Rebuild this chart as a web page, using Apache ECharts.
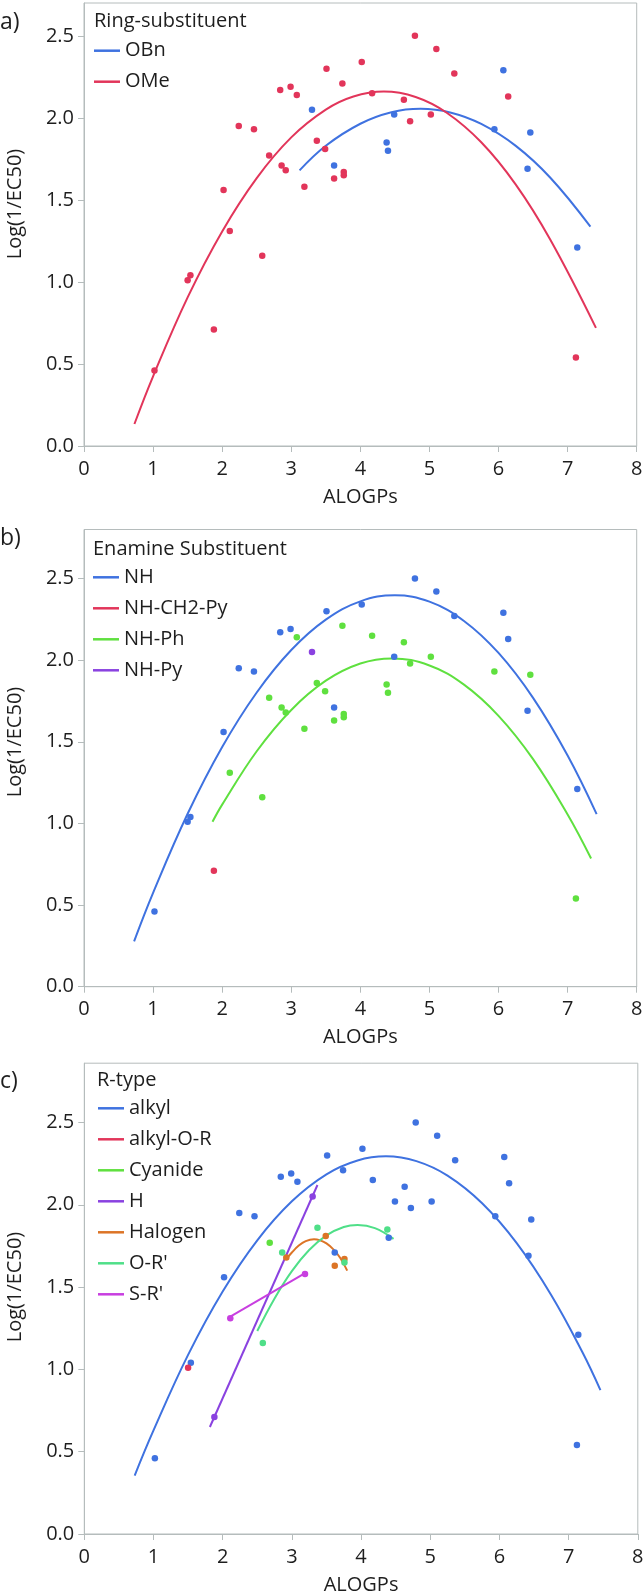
<!DOCTYPE html>
<html>
<head>
<meta charset="utf-8">
<script src="https://cdn.jsdelivr.net/npm/echarts@6/dist/echarts.min.js"></script>
<style>
html,body{margin:0;padding:0;background:#fff;}
#chart{width:643px;height:1593px;}
</style>
</head>
<body>
<div id="chart"></div>
<script>
// ---- data ----
const alogp = [1.02,1.50,1.54,1.88,2.02,2.11,2.24,2.46,2.58,2.68,2.84,2.86,2.92,2.99,3.08,3.19,3.30,3.37,3.49,3.51,3.62,3.62,3.74,3.76,3.76,4.02,4.17,4.38,4.40,4.49,4.63,4.72,4.79,5.02,5.10,5.36,5.94,6.07,6.14,6.42,6.46,7.12,7.14];
const logInvEC50 = [0.46,1.01,1.04,0.71,1.56,1.31,1.95,1.93,1.16,1.77,2.17,1.71,1.68,2.19,2.14,1.58,2.05,1.86,1.81,2.30,1.71,1.63,2.21,1.67,1.65,2.34,2.15,1.85,1.80,2.02,2.11,1.98,2.50,2.02,2.42,2.27,1.93,2.29,2.13,1.69,1.91,0.54,1.21];
const ringSubstituent = ['OMe','OMe','OMe','OMe','OMe','OMe','OMe','OMe','OMe','OMe',
  'OMe','OMe','OMe','OMe','OMe','OMe','OBn','OMe','OMe','OMe',
  'OBn','OMe','OMe','OMe','OMe','OMe','OMe','OBn','OBn','OBn',
  'OMe','OMe','OMe','OMe','OMe','OMe','OBn','OBn','OMe','OBn',
  'OBn','OMe','OBn'];
const enamineSubstituent = ['NH','NH','NH','NH-CH2-Py','NH','NH-Ph','NH','NH','NH-Ph','NH-Ph',
  'NH','NH-Ph','NH-Ph','NH','NH-Ph','NH-Ph','NH-Py','NH-Ph','NH-Ph','NH',
  'NH','NH-Ph','NH-Ph','NH-Ph','NH-Ph','NH','NH-Ph','NH-Ph','NH-Ph','NH',
  'NH-Ph','NH-Ph','NH','NH-Ph','NH','NH','NH-Ph','NH','NH','NH',
  'NH-Ph','NH-Ph','NH'];
const rType = ['alkyl','alkyl-O-R','alkyl','H','alkyl',"S-R'",'alkyl','alkyl',"O-R'",'Cyanide',
  'alkyl',"O-R'",'Halogen','alkyl','alkyl',"S-R'",'H',"O-R'",'Halogen','alkyl',
  'alkyl','Halogen','alkyl','Halogen',"O-R'",'alkyl','alkyl',"O-R'",'alkyl','alkyl',
  'alkyl','alkyl','alkyl','alkyl','alkyl','alkyl','alkyl','alkyl','alkyl','alkyl',
  'alkyl','alkyl','alkyl'];

// fitted curves
const fitOBn = [[3.12,1.68],[3.5,1.83],[4.0,1.964],[4.45,2.034],[4.87,2.055],[5.3,2.033],[5.75,1.963],[6.25,1.829],[6.75,1.635],[7.33,1.337]];
const fitOMe = [[0.73,0.134],[1.0,0.425],[1.5,0.906],[2.0,1.308],[2.5,1.633],[3.0,1.881],[3.5,2.05],[3.9,2.13],[4.34,2.16],[4.8,2.127],[5.25,2.031],[5.75,1.851],[6.25,1.593],[6.75,1.257],[7.41,0.72]];
const fitNH = [[0.725,0.278],[1.0,0.575],[1.5,1.059],[2.0,1.468],[2.5,1.802],[3.0,2.062],[3.5,2.248],[4.0,2.36],[4.5,2.397],[5.0,2.358],[5.5,2.24],[6.0,2.044],[6.5,1.769],[7.0,1.416],[7.42,1.057]];
const fitNHPh = [[1.86,1.01],[2.0,1.115],[2.5,1.442],[3.0,1.695],[3.5,1.874],[4.0,1.979],[4.46,2.01],[5.0,1.967],[5.5,1.85],[6.0,1.659],[6.5,1.394],[7.0,1.055],[7.34,0.785]];
const fitAlkyl = [[0.728,0.355],[1.0,0.629],[1.5,1.088],[2.0,1.473],[2.5,1.784],[3.0,2.021],[3.5,2.185],[3.95,2.269],[4.36,2.294],[4.8,2.265],[5.25,2.177],[5.75,2.009],[6.25,1.767],[6.75,1.451],[7.2,1.104],[7.46,0.874]];
const fitORprime = [[2.5,1.233],[2.75,1.431],[3.0,1.597],[3.25,1.725],[3.5,1.814],[3.75,1.865],[3.95,1.877],[4.2,1.858],[4.47,1.793]];
const fitHalogen = [[2.92,1.67],[3.0,1.71],[3.1,1.752],[3.2,1.779],[3.32,1.79],[3.4,1.785],[3.5,1.765],[3.6,1.729],[3.7,1.677],[3.8,1.60]];
const fitH = [[1.815,0.65],[3.37,2.12]];
const fitSRprime = [[2.11,1.32],[3.21,1.59]];

const xTicks = [0,1,2,3,4,5,6,7,8];
const yTicks = [0.0,0.5,1.0,1.5,2.0,2.5];

// ---- styling ----
const BLUE='#3f72e0', RED='#e2355a', GREEN='#5fe03f', PURPLE='#8a42e0', ORANGE='#dc7426', MINT='#4fdf88', MAGENTA='#c83fe0';
const FONT = '"Open Sans", "Noto Sans", sans-serif';
const TXT = '#1e1e1e';
const AXC = '#b5bcbc';

const panels = [
  {label:'a)', labelTop:10.5, legendTitle:'Ring-substituent', titleLeft:94, titleTop:11, legendLeft:94, legendTop:40.7,
   grid:{left:84, top:3, width:552.7, height:443}, ymax:2.7, ynameY:204, field: ringSubstituent,
   groups:[{name:'OBn', color:BLUE, fit:fitOBn},{name:'OMe', color:RED, fit:fitOMe}]},
  {label:'b)', labelTop:526.5, legendTitle:'Enamine Substituent', titleLeft:93, titleTop:539.3, legendLeft:93, legendTop:567.3,
   grid:{left:84, top:529.5, width:552.7, height:457.2}, ymax:2.8, ynameY:742, field: enamineSubstituent,
   groups:[{name:'NH', color:BLUE, fit:fitNH},{name:'NH-CH2-Py', color:RED},{name:'NH-Ph', color:GREEN, fit:fitNHPh},{name:'NH-Py', color:PURPLE}]},
  {label:'c)', labelTop:1069.5, legendTitle:'R-type', titleLeft:97, titleTop:1070, legendLeft:98, legendTop:1098.3,
   grid:{left:84.3, top:1063.2, width:553.5, height:470.8}, ymax:2.86, ynameY:1287, field: rType,
   groups:[{name:'alkyl', color:BLUE, fit:fitAlkyl},{name:'alkyl-O-R', color:RED},{name:'Cyanide', color:GREEN},
           {name:'H', color:PURPLE, fit:fitH, straight:true},{name:'Halogen', color:ORANGE, fit:fitHalogen},
           {name:"O-R'", color:MINT, fit:fitORprime},{name:"S-R'", color:MAGENTA, fit:fitSRprime, straight:true}]}
];

const grids=[], xAxes=[], yAxes=[], series=[], legends=[], titles=[], graphics=[];
panels.forEach((p, k) => {
  grids.push(Object.assign({show:true, borderColor:AXC, borderWidth:1, containLabel:false, outerBoundsMode:'none'}, p.grid));
  xAxes.push({gridIndex:k, type:'value', min:xTicks[0], max:xTicks[xTicks.length-1], interval:1,
    name:'ALOGPs', nameLocation:'middle', nameGap:41,
    nameTextStyle:{fontFamily:FONT, fontSize:20, color:TXT},
    axisLine:{show:true, onZero:false, lineStyle:{color:AXC, width:1}},
    axisTick:{show:true, length:6, lineStyle:{color:AXC}},
    axisLabel:{fontFamily:FONT, fontSize:20, color:TXT, margin:13},
    splitLine:{show:false}});
  yAxes.push({gridIndex:k, type:'value', min:yTicks[0], max:p.ymax, interval:0.5,
    axisLine:{show:true, onZero:false, lineStyle:{color:AXC, width:1}},
    axisTick:{show:true, length:6, lineStyle:{color:AXC}},
    axisLabel:{fontFamily:FONT, fontSize:20, color:TXT, margin:10, showMaxLabel:false,
      formatter:(v)=> yTicks.some(t=>Math.abs(t-v)<1e-6) ? v.toFixed(1) : ''},
    splitLine:{show:false}});
  titles.push({text:p.label, left:0, top:p.labelTop, padding:0,
    textStyle:{fontFamily:FONT, fontSize:23, fontWeight:'normal', color:TXT, lineHeight:23}});
  titles.push({text:p.legendTitle, left:p.titleLeft, top:p.titleTop, padding:0,
    textStyle:{fontFamily:FONT, fontSize:20, fontWeight:'normal', color:TXT, lineHeight:20}});
  graphics.push({type:'text', x:15, y:p.ynameY, rotation:Math.PI/2,
    style:{text:'Log(1/EC50)', font:'20px ' + FONT, fill:TXT, align:'center', verticalAlign:'middle'}});
  legends.push({left:p.legendLeft, top:p.legendTop, orient:'vertical', padding:0, itemGap:11,
    itemWidth:26, itemHeight:2.5, selectedMode:false,
    textStyle:{fontFamily:FONT, fontSize:20, color:TXT, lineHeight:20},
    data:p.groups.map(g=>({name:g.name, icon:'rect', itemStyle:{color:g.color, borderWidth:0}}))});
  p.groups.forEach(g => {
    if (g.fit) {
      series.push({type:'line', name:g.name, xAxisIndex:k, yAxisIndex:k, data:g.fit,
        showSymbol:false, smooth: g.straight ? false : 0.4, z:2, silent:true,
        lineStyle:{color:g.color, width:2}, itemStyle:{color:g.color}});
    }
    const pts = [];
    p.field.forEach((v,i)=>{ if (v===g.name) pts.push([alogp[i], logInvEC50[i]]); });
    series.push({type:'scatter', name:g.name, xAxisIndex:k, yAxisIndex:k, data:pts,
      symbol:'circle', symbolSize:6.5, z:3, itemStyle:{color:g.color, opacity:1}});
  });
});

const chart = echarts.init(document.getElementById('chart'), null, {renderer:'canvas'});
chart.setOption({
  animation:false,
  backgroundColor:'#ffffff',
  title:titles, grid:grids, xAxis:xAxes, yAxis:yAxes, legend:legends, series:series, graphic:graphics
});
</script>
</body>
</html>
